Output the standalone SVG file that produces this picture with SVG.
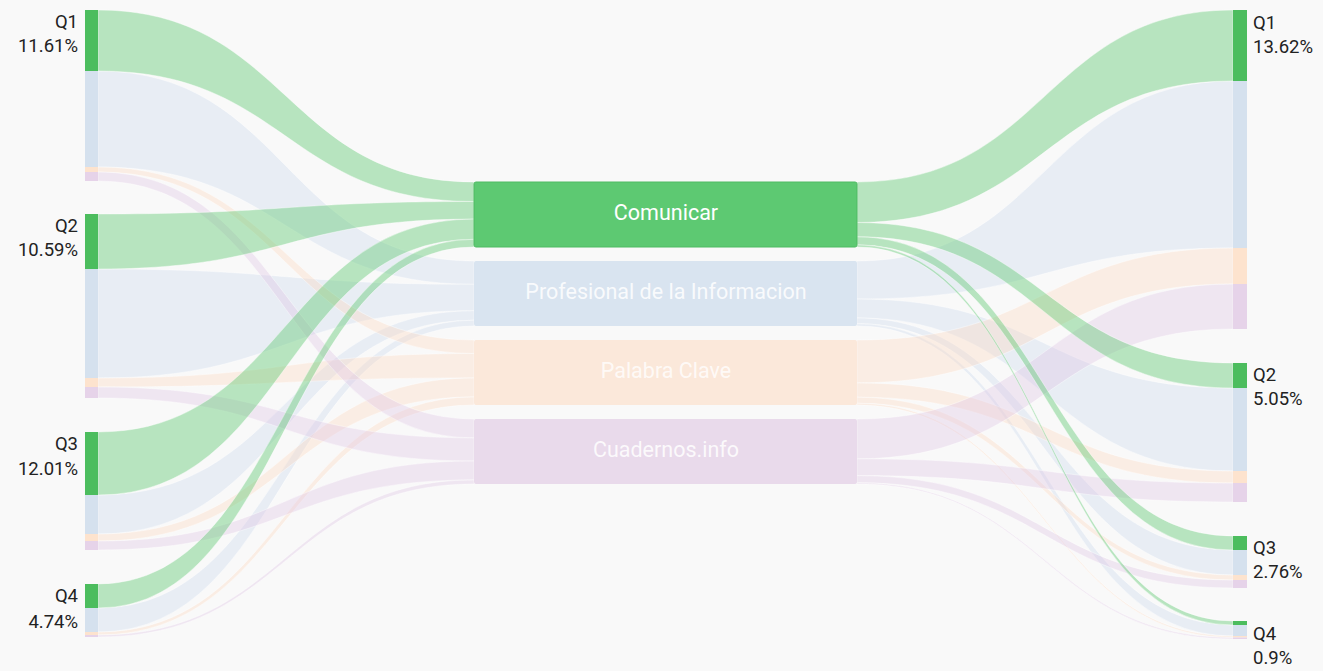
<svg xmlns="http://www.w3.org/2000/svg" width="1323" height="671" viewBox="0 0 1323 671">
<style>
.lk{stroke:#ffffff;stroke-width:0.8;stroke-opacity:0.5}
.lg{fill:#5cc96f;fill-opacity:0.42}
.lb{fill:#c9d8ea;fill-opacity:0.35}
.lo{fill:#fbd9bf;fill-opacity:0.36}
.lp{fill:#dfc6e3;fill-opacity:0.36}
.ng{fill:#4cbd5e}
.nb{fill:#d5e1ee}
.no{fill:#fde3ce}
.np{fill:#e6d3e9}
.lbl{font-family:Roboto,"Liberation Sans",sans-serif;font-size:18.5px;fill:#222222}
.mid{font-family:Roboto,"Liberation Sans",sans-serif;font-size:21.5px;fill:#ffffff;text-anchor:middle}
</style>
<rect x="0" y="0" width="1323" height="671" fill="#f9f9f9"/>
<g id="connectors">
<path class="lk lb" d="M98,71C286,71 286,261 474,261L474,284.3C286,284.3 286,167 98,167Z"/>
<path class="lk lb" d="M98,269C286,269 286,284.3 474,284.3L474,310.7C286,310.7 286,378 98,378Z"/>
<path class="lk lb" d="M98,495C286,495 286,310.7 474,310.7L474,320.2C286,320.2 286,534 98,534Z"/>
<path class="lk lb" d="M98,608C286,608 286,320.2 474,320.2L474,326C286,326 286,632 98,632Z"/>
<path class="lk lo" d="M98,167C286,167 286,340 474,340L474,353.5C286,353.5 286,172 98,172Z"/>
<path class="lk lo" d="M98,378C286,378 286,353.5 474,353.5L474,377.9C286,377.9 286,387 98,387Z"/>
<path class="lk lo" d="M98,534C286,534 286,377.9 474,377.9L474,396.9C286,396.9 286,541 98,541Z"/>
<path class="lk lo" d="M98,632C286,632 286,396.9 474,396.9L474,405C286,405 286,635 98,635Z"/>
<path class="lk lp" d="M98,172C286,172 286,419 474,419L474,437.9C286,437.9 286,181 98,181Z"/>
<path class="lk lp" d="M98,387C286,387 286,437.9 474,437.9L474,461C286,461 286,398 98,398Z"/>
<path class="lk lp" d="M98,541C286,541 286,461 474,461L474,479.9C286,479.9 286,550 98,550Z"/>
<path class="lk lp" d="M98,635C286,635 286,479.9 474,479.9L474,484C286,484 286,637 98,637Z"/>
<path class="lk lg" d="M98,10C286,10 286,182 474,182L474,201.5C286,201.5 286,71 98,71Z"/>
<path class="lk lg" d="M98,214C286,214 286,201.5 474,201.5L474,219.1C286,219.1 286,269 98,269Z"/>
<path class="lk lg" d="M98,432C286,432 286,219.1 474,219.1L474,239.3C286,239.3 286,495 98,495Z"/>
<path class="lk lg" d="M98,584C286,584 286,239.3 474,239.3L474,247C286,247 286,608 98,608Z"/>
<path class="lk lb" d="M857,261C1045,261 1045,81 1233,81L1233,248C1045,248 1045,299 857,299Z"/>
<path class="lk lb" d="M857,299C1045,299 1045,388 1233,388L1233,471C1045,471 1045,317.9 857,317.9Z"/>
<path class="lk lb" d="M857,317.9C1045,317.9 1045,550 1233,550L1233,575C1045,575 1045,323.6 857,323.6Z"/>
<path class="lk lb" d="M857,323.6C1045,323.6 1045,625 1233,625L1233,636C1045,636 1045,326 857,326Z"/>
<path class="lk lo" d="M857,340C1045,340 1045,248 1233,248L1233,284C1045,284 1045,382.9 857,382.9Z"/>
<path class="lk lo" d="M857,382.9C1045,382.9 1045,471 1233,471L1233,483C1045,483 1045,397.2 857,397.2Z"/>
<path class="lk lo" d="M857,397.2C1045,397.2 1045,575 1233,575L1233,580C1045,580 1045,403.2 857,403.2Z"/>
<path class="lk lo" d="M857,403.2C1045,403.2 1045,636 1233,636L1233,637.5C1045,637.5 1045,405 857,405Z"/>
<path class="lk lp" d="M857,419C1045,419 1045,284 1233,284L1233,329C1045,329 1045,458.8 857,458.8Z"/>
<path class="lk lp" d="M857,458.8C1045,458.8 1045,483 1233,483L1233,502C1045,502 1045,475.6 857,475.6Z"/>
<path class="lk lp" d="M857,475.6C1045,475.6 1045,580 1233,580L1233,588C1045,588 1045,482.7 857,482.7Z"/>
<path class="lk lp" d="M857,482.7C1045,482.7 1045,637.5 1233,637.5L1233,639C1045,639 1045,484 857,484Z"/>
<path class="lk lg" d="M857,182C1045,182 1045,10 1233,10L1233,81C1045,81 1045,222.5 857,222.5Z"/>
<path class="lk lg" d="M857,222.5C1045,222.5 1045,363 1233,363L1233,388C1045,388 1045,236.8 857,236.8Z"/>
<path class="lk lg" d="M857,236.8C1045,236.8 1045,536 1233,536L1233,550C1045,550 1045,244.8 857,244.8Z"/>
<path class="lk lg" d="M857,244.8C1045,244.8 1045,621 1233,621L1233,625C1045,625 1045,247 857,247Z"/>
</g>
<g id="left-q1">
<rect class="ng" x="85" y="10" width="13" height="61"/>
<rect class="nb" x="85" y="71" width="13" height="96"/>
<rect class="no" x="85" y="167" width="13" height="5"/>
<rect class="np" x="85" y="172" width="13" height="9"/>
<text class="lbl" x="78" y="28" text-anchor="end">Q1</text>
<text class="lbl" x="78" y="52" text-anchor="end">11.61%</text>
</g>
<g id="left-q2">
<rect class="ng" x="85" y="214" width="13" height="55"/>
<rect class="nb" x="85" y="269" width="13" height="109"/>
<rect class="no" x="85" y="378" width="13" height="9"/>
<rect class="np" x="85" y="387" width="13" height="11"/>
<text class="lbl" x="78" y="232" text-anchor="end">Q2</text>
<text class="lbl" x="78" y="256" text-anchor="end">10.59%</text>
</g>
<g id="left-q3">
<rect class="ng" x="85" y="432" width="13" height="63"/>
<rect class="nb" x="85" y="495" width="13" height="39"/>
<rect class="no" x="85" y="534" width="13" height="7"/>
<rect class="np" x="85" y="541" width="13" height="9"/>
<text class="lbl" x="78" y="450" text-anchor="end">Q3</text>
<text class="lbl" x="78" y="475" text-anchor="end">12.01%</text>
</g>
<g id="left-q4">
<rect class="ng" x="85" y="584" width="13" height="24"/>
<rect class="nb" x="85" y="608" width="13" height="24"/>
<rect class="no" x="85" y="632" width="13" height="3"/>
<rect class="np" x="85" y="635" width="13" height="2"/>
<text class="lbl" x="78" y="602" text-anchor="end">Q4</text>
<text class="lbl" x="78" y="628" text-anchor="end">4.74%</text>
</g>
<g id="comunicar">
<rect x="474" y="182" width="383" height="65" rx="2" fill="#5dc972" stroke="#4fbb63" stroke-width="1"/>
<text class="mid" x="666" y="220">Comunicar</text>
</g>
<g id="profesional">
<rect x="474" y="261" width="383" height="65" rx="2" fill="#d9e4f0"/>
<text class="mid" x="666" y="299" fill-opacity="0.85">Profesional de la Informacion</text>
</g>
<g id="palabra-clave">
<rect x="474" y="340" width="383" height="65" rx="2" fill="#fbe8da"/>
<text class="mid" x="666" y="378" fill-opacity="0.8">Palabra Clave</text>
</g>
<g id="cuadernos">
<rect x="474" y="419" width="383" height="65" rx="2" fill="#e9daeb"/>
<text class="mid" x="666" y="457" fill-opacity="0.85">Cuadernos.info</text>
</g>
<g id="right-q1">
<rect class="ng" x="1233" y="10" width="14" height="71"/>
<rect class="nb" x="1233" y="81" width="14" height="167"/>
<rect class="no" x="1233" y="248" width="14" height="36"/>
<rect class="np" x="1233" y="284" width="14" height="45"/>
<text class="lbl" x="1253" y="29">Q1</text>
<text class="lbl" x="1253" y="53">13.62%</text>
</g>
<g id="right-q2">
<rect class="ng" x="1233" y="363" width="14" height="25"/>
<rect class="nb" x="1233" y="388" width="14" height="83"/>
<rect class="no" x="1233" y="471" width="14" height="12"/>
<rect class="np" x="1233" y="483" width="14" height="19"/>
<text class="lbl" x="1253" y="381">Q2</text>
<text class="lbl" x="1253" y="405">5.05%</text>
</g>
<g id="right-q3">
<rect class="ng" x="1233" y="536" width="14" height="14"/>
<rect class="nb" x="1233" y="550" width="14" height="25"/>
<rect class="no" x="1233" y="575" width="14" height="5"/>
<rect class="np" x="1233" y="580" width="14" height="8"/>
<text class="lbl" x="1253" y="554">Q3</text>
<text class="lbl" x="1253" y="578">2.76%</text>
</g>
<g id="right-q4">
<rect class="ng" x="1233" y="621" width="14" height="4"/>
<rect class="nb" x="1233" y="625" width="14" height="11"/>
<rect class="no" x="1233" y="636" width="14" height="1.5"/>
<rect class="np" x="1233" y="637.5" width="14" height="1.5"/>
<text class="lbl" x="1253" y="640">Q4</text>
<text class="lbl" x="1253" y="664">0.9%</text>
</g>
</svg>
